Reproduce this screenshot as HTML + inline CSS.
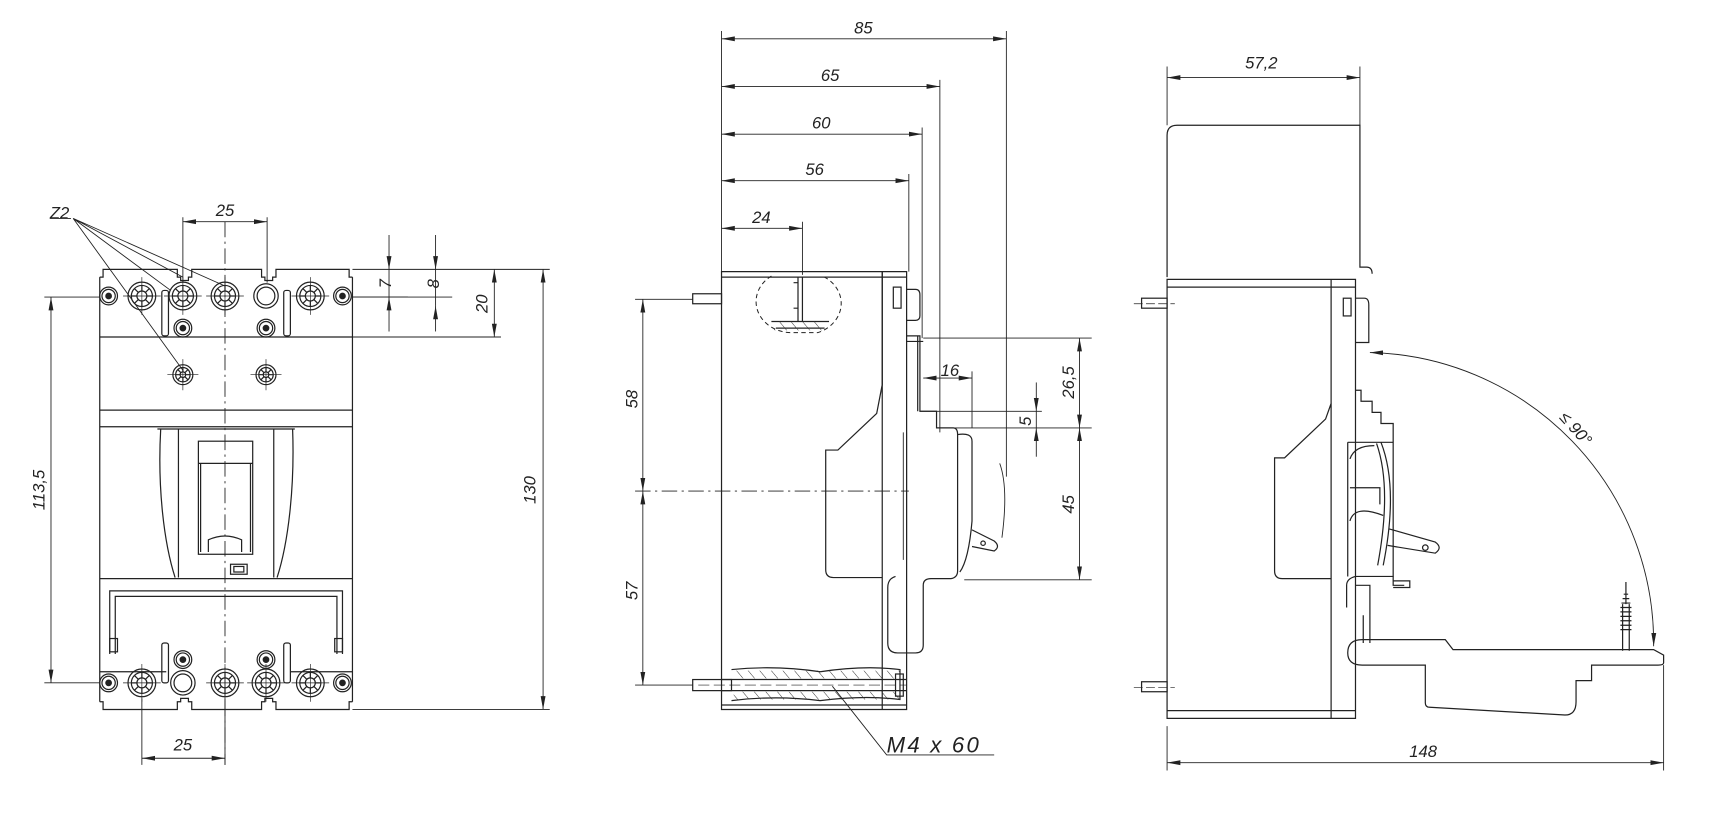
<!DOCTYPE html>
<html><head><meta charset="utf-8"><style>
html,body{margin:0;padding:0;background:#fff;}
svg{display:block;}
text{font-family:"Liberation Sans",sans-serif;font-style:italic;font-size:15px;fill:#222;}
</style></head><body>
<svg width="1729" height="817" viewBox="0 0 1560 737" preserveAspectRatio="none" xmlns="http://www.w3.org/2000/svg">
<defs>
<marker id="a" viewBox="0 0 12 6" refX="12" refY="3" markerWidth="12" markerHeight="6" markerUnits="userSpaceOnUse" orient="auto-start-reverse">
<path d="M0,0.8 L12,3 L0,5.2 Z" fill="#222"/></marker>
<pattern id="h" width="8" height="8" patternUnits="userSpaceOnUse" patternTransform="rotate(-40)">
<line x1="0" y1="0" x2="0" y2="8" stroke="#333" stroke-width="0.9"/></pattern>
<g id="bs"><circle r="12.5"/><circle r="9.5"/><circle r="4.5"/>
<path d="M0,-9 V-4.5 M0,9 V4.5 M-9,0 H-4.5 M9,0 H4.5 M-6.4,-6.4 L-3.2,-3.2 M6.4,6.4 L3.2,3.2 M6.4,-6.4 L3.2,-3.2 M-6.4,6.4 L-3.2,3.2"/>
<path d="M-17,0 H17 M0,-17 V17" stroke-width="0.6"/></g>
<g id="ms"><circle r="9"/><circle r="6.5"/><circle r="2.5"/>
<path d="M0,-6.5 V-2.5 M0,6.5 V2.5 M-6.5,0 H-2.5 M6.5,0 H2.5 M-4.6,-4.6 L-1.8,-1.8 M4.6,4.6 L1.8,1.8 M4.6,-4.6 L1.8,-1.8 M-4.6,4.6 L-1.8,1.8"/>
<path d="M-14,0 H14 M0,-14 V14" stroke-width="0.6"/></g>
<g id="ss"><circle r="8"/><circle r="6"/><circle r="2.5" fill="#222"/></g>
<g id="pc"><circle r="11"/><circle r="8"/></g>
</defs>
<g fill="none" stroke="#222" stroke-width="1.1">

<!-- ================= FRONT VIEW ================= -->
<path d="M90,250 L90,633 M318,250 L318,633"/>
<path d="M90,250 L93,250 L93,243 L160,243 L160,250 L163,250 L163,253 L170,253 L170,250 L173,250 L173,243 L236,243 L236,250 L239,250 L239,253 L246,253 L246,250 L249,250 L249,243 L315,243 L315,250 L318,250"/>
<path d="M90,633 L93,633 L93,640 L160,640 L160,633 L163,633 L163,630 L170,630 L170,633 L173,633 L173,640 L236,640 L236,633 L239,633 L239,630 L246,630 L246,633 L249,633 L249,640 L315,640 L315,633 L318,633"/>
<path d="M90,304 H318 M90,370 H318 M90,385 H318 M90,522 H318"/>
<!-- slots -->
<rect x="146" y="262" width="6" height="41" rx="2"/><rect x="256" y="262" width="6" height="41" rx="2"/>
<rect x="146" y="580" width="6" height="36" rx="2"/><rect x="256" y="580" width="6" height="36" rx="2"/>
<!-- handle -->
<path d="M145,387 C142,440 148,490 158,521 M264,387 C266,440 260,490 250,521"/>
<path d="M142,387 H266 M161,387 V521 M247,387 V521"/>
<rect x="179" y="398" width="49" height="102"/><path d="M179,418 H228 M181,418 V498 M226,418 V498"/>
<path d="M188,498 V487 Q203,480 218,487 V498"/>
<rect x="208" y="509" width="15" height="9"/><rect x="211" y="511" width="9" height="5"/>
<!-- bottom frame -->
<path d="M99,590 V533 H309 V590 M104,590 V538 H304 V590"/>
<rect x="99" y="576" width="7" height="12"/><rect x="302" y="576" width="7" height="12"/>
<path d="M90,606 H150 M262,606 H318"/>
<!-- screws -->
<use href="#ss" x="98" y="267"/><use href="#bs" x="128" y="267"/><use href="#bs" x="165" y="267"/>
<use href="#bs" x="203" y="267"/><use href="#pc" x="240" y="267"/><use href="#bs" x="280" y="267"/><use href="#ss" x="309" y="267"/>
<use href="#ss" x="165" y="296"/><use href="#ss" x="240" y="296"/>
<use href="#ms" x="165" y="338"/><use href="#ms" x="240" y="338"/>
<use href="#ss" x="98" y="616"/><use href="#bs" x="128" y="616"/><use href="#pc" x="165" y="616"/>
<use href="#bs" x="203" y="616"/><use href="#bs" x="240" y="616"/><use href="#bs" x="280" y="616"/><use href="#ss" x="309" y="616"/>
<use href="#ss" x="165" y="595"/><use href="#ss" x="240" y="595"/>
<!-- center line -->
<path d="M203,200 V690" stroke-width="0.8" stroke-dasharray="14,4,2,4"/>
<!-- dims -->
<g stroke-width="0.8">
<path d="M165,196 V255 M241,196 V255"/><path d="M165,200 H241" marker-start="url(#a)" marker-end="url(#a)"/>
<path d="M128,630 V690 M203,630 V690"/><path d="M128,684 H203" marker-start="url(#a)" marker-end="url(#a)"/>
<path d="M40,268 H90 M40,616 H90"/><path d="M46,268 V616" marker-start="url(#a)" marker-end="url(#a)"/>
<path d="M318,243 H496 M318,640 H496"/><path d="M490,243 V640" marker-start="url(#a)" marker-end="url(#a)"/>
<path d="M318,268 H368"/><path d="M351,212 V243" marker-end="url(#a)"/><path d="M351,299 V268" marker-end="url(#a)"/><path d="M351,243 V268"/>
<path d="M318,268 H408"/><path d="M393,212 V243" marker-end="url(#a)"/><path d="M393,299 V276" marker-end="url(#a)"/><path d="M393,243 V276"/>
<path d="M318,304 H452"/><path d="M446,243 V304" marker-start="url(#a)" marker-end="url(#a)"/>
<path d="M45,197 H64 M66,197 L165,250 M66,197 L203,258 M66,197 L154,262 M66,197 L165,334"/>
</g>

<!-- ================= SIDE VIEW ================= -->
<path d="M651,245 H818 V640 H651 Z"/><path d="M651,250 H818 M651,636 H818"/>
<path d="M796,245 V640"/>
<rect x="806" y="259" width="7" height="19"/><path d="M818,261 H826 Q830,261 830,266 V285 Q830,289 826,289 H818"/>
<path d="M818,303 H830 V371 H845 V386 H860 Q864,386 864,392 V515 Q864,521 858,522 H840 Q833,522 833,528 V582 Q833,589 826,589 H818"/>
<path d="M818,308 H833 M828,303 V371"/>
<path d="M864,392 Q877,390 877,398 V470 Q874,505 866,516"/>
<path d="M877,478 L897,488 Q903,493 897,497 L877,493"/><circle cx="887" cy="490" r="2"/>
<path d="M902,418 Q910,440 904,485" stroke-width="0.8"/>
<path d="M796,245 V347 L791,373 L756,406 H745 V514 Q745,521 752,521 H796"/>
<path d="M808,520 Q801,522 801,530 V580 Q801,589 810,589 H818"/>
<path d="M818,390 V505 M815,390 V505" stroke-width="0.8"/>
<!-- pins -->
<rect x="625" y="265" width="26" height="9"/><rect x="625" y="613" width="35" height="10"/>
<!-- top cut circle -->
<path d="M696,249 A32,28 0 0 0 716,300 H738 A32,28 0 0 0 744,250" stroke-dasharray="4,3" stroke-width="0.9"/>
<path d="M696,290 H748 M700,296 H744"/><rect x="698" y="290" width="46" height="8" fill="url(#h)" stroke="none"/>
<path d="M720,250 V290 M724,250 V290 M716,255 H720 M716,278 H720"/>
<!-- bolt hatched -->
<path d="M660,604 Q700,600 740,606 Q780,600 812,604 V631 Q780,627 740,632 Q700,627 660,632" />
<rect x="662" y="605" width="150" height="7" fill="url(#h)" stroke="none"/>
<rect x="662" y="624" width="150" height="7" fill="url(#h)" stroke="none"/>
<path d="M651,613 H818 M651,623 H818"/><path d="M630,618 H818" stroke-dasharray="10,4" stroke-width="0.6"/>
<rect x="808" y="608" width="7" height="20"/>
<!-- center -->
<path d="M573,443 H820" stroke-width="0.8" stroke-dasharray="14,4,2,4"/>
<g stroke-width="0.8">
<path d="M651,28 V245 M908,28 V430 M848,72 V390 M832,115 V305 M820,157 V245 M724,200 V248"/>
<path d="M651,35 H908" marker-start="url(#a)" marker-end="url(#a)"/>
<path d="M651,78 H848" marker-start="url(#a)" marker-end="url(#a)"/>
<path d="M651,121 H832" marker-start="url(#a)" marker-end="url(#a)"/>
<path d="M651,163 H820" marker-start="url(#a)" marker-end="url(#a)"/>
<path d="M651,206 H724" marker-start="url(#a)" marker-end="url(#a)"/>
<path d="M573,270 H625 M573,618 H625"/>
<path d="M580,270 V443" marker-start="url(#a)" marker-end="url(#a)"/>
<path d="M580,443 V618" marker-start="url(#a)" marker-end="url(#a)"/>
<path d="M833,305 H985 M848,386 H985 M870,523 H985 M830,371 H940 M877,335 V386"/>
<path d="M974,305 V386" marker-start="url(#a)" marker-end="url(#a)"/>
<path d="M974,386 V523" marker-start="url(#a)" marker-end="url(#a)"/>
<path d="M833,341 H877" marker-start="url(#a)" marker-end="url(#a)"/>
<path d="M935,345 V371" marker-end="url(#a)"/><path d="M935,412 V386" marker-end="url(#a)"/><path d="M935,371 V386"/>
<path d="M751,619 L800,681 H897"/>
</g>

<!-- ================= RIGHT VIEW ================= -->
<path d="M1053,250 V122 Q1053,113 1062,113 H1227 V241 H1233 Q1238,241 1238,247"/>
<path d="M1053,252 H1223 V648 H1053 Z"/><path d="M1053,259 H1223 M1053,641 H1223 M1201,252 V648"/>
<rect x="1212" y="269" width="7" height="16"/><path d="M1223,269 H1231 Q1235,269 1235,275 V309 H1223"/>
<path d="M1201,364 L1196,378 L1159,413 H1150 V515 Q1150,522 1157,522 H1201"/>
<rect x="1030" y="269" width="23" height="9"/><rect x="1030" y="615" width="23" height="9"/>
<path d="M1023,274 H1060 M1023,620 H1060" stroke-width="0.6" stroke-dasharray="8,3"/>
<!-- mechanism -->
<path d="M1223,352 H1228 V362 H1238 V372 H1246 V382 H1257 V520 H1223"/>
<path d="M1216,399 V520 M1257,399 H1216"/>
<path d="M1246,399 Q1262,440 1248,510 M1242,400 Q1256,440 1243,510"/>
<path d="M1218,414 Q1222,402 1240,402 M1218,440 H1245 V455 M1218,470 Q1222,455 1248,465"/>
<path d="M1253,477 L1295,489 Q1302,494 1295,499 L1252,492"/><circle cx="1286" cy="494" r="2.5"/>
<path d="M1223,520 Q1215,522 1215,528 V548 M1257,520 V528 H1267 M1257,524 H1272 V530 H1257"/>
<path d="M1223,528 H1236 V580 M1230,555 V580"/>
<!-- lid -->
<path d="M1229,577 H1304 L1311,586 H1492 L1501,591 V598 Q1501,600 1496,600 H1436 V614 H1422 V633 Q1422,645 1412,645 L1290,638 Q1286,638 1286,634 V600 H1229 Q1216,600 1216,589 Q1216,577 1229,577 Z"/>
<!-- spring -->
<path d="M1464,587 V545 M1470,587 V545 M1467,545 V525"/>
<path d="M1462,548 H1472 M1462,552 H1472 M1462,556 H1472 M1462,560 H1472 M1462,564 H1472 M1462,568 H1472 M1463,544 H1471 M1464,540 H1470 M1465,536 H1469"/>
<!-- arc -->
<g stroke-width="0.8">
<path d="M1236,318 A262,262 0 0 1 1492,583" marker-start="url(#a)" marker-end="url(#a)"/>
<path d="M1053,655 V695 M1501,600 V695"/>
<path d="M1053,688 H1501" marker-start="url(#a)" marker-end="url(#a)"/>
<path d="M1053,60 V113 M1227,60 V113"/>
<path d="M1053,70 H1227" marker-start="url(#a)" marker-end="url(#a)"/>
</g>
</g>

<!-- ================= TEXT ================= -->
<text x="203" y="195" text-anchor="middle">25</text>
<text x="165" y="677" text-anchor="middle">25</text>
<text x="45" y="197">Z2</text>
<text transform="translate(40,442) rotate(-90)" text-anchor="middle">113,5</text>
<text transform="translate(483,442) rotate(-90)" text-anchor="middle">130</text>
<text transform="translate(353,256) rotate(-90)" text-anchor="middle">7</text>
<text transform="translate(396,256) rotate(-90)" text-anchor="middle">8</text>
<text transform="translate(440,274) rotate(-90)" text-anchor="middle">20</text>
<text x="779" y="30" text-anchor="middle">85</text>
<text x="749" y="73" text-anchor="middle">65</text>
<text x="741" y="116" text-anchor="middle">60</text>
<text x="735" y="158" text-anchor="middle">56</text>
<text x="687" y="201" text-anchor="middle">24</text>
<text x="857" y="339" text-anchor="middle">16</text>
<text transform="translate(575,360) rotate(-90)" text-anchor="middle">58</text>
<text transform="translate(575,533) rotate(-90)" text-anchor="middle">57</text>
<text transform="translate(969,345) rotate(-90)" text-anchor="middle">26,5</text>
<text transform="translate(969,455) rotate(-90)" text-anchor="middle">45</text>
<text transform="translate(930,380) rotate(-90)" text-anchor="middle">5</text>
<text x="800" y="679" style="font-size:20px;letter-spacing:2px">M4  x  60</text>
<text x="1138" y="62" text-anchor="middle">57,2</text>
<text x="1284" y="683" text-anchor="middle">148</text>
<text transform="translate(1418,390) rotate(48)" text-anchor="middle">≤ 90°</text>
</svg>
</body></html>
